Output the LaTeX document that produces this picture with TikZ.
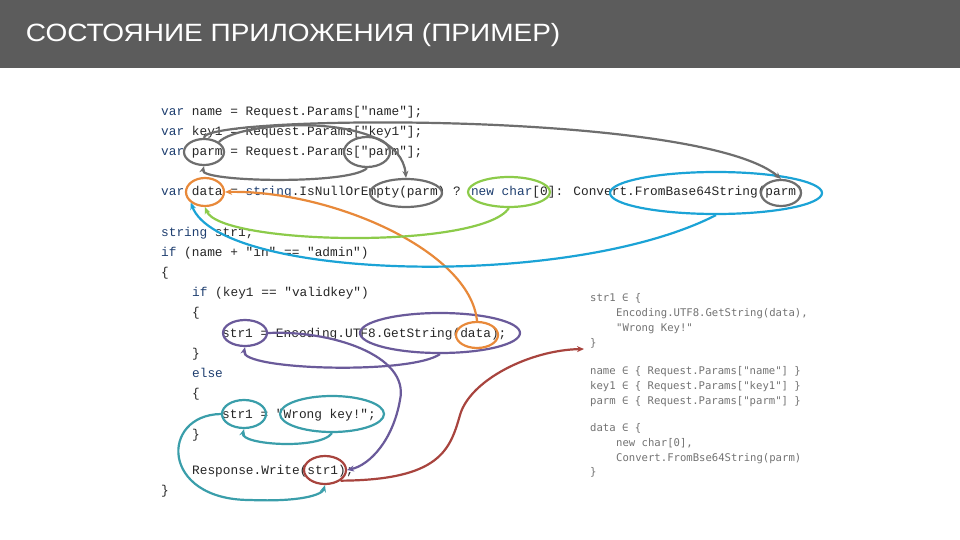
\documentclass[tikz,border=0pt]{standalone}
\usepackage{fontspec}
\setmainfont{Liberation Sans}
\newfontfamily\codefont{Liberation Mono}
\newfontfamily\panelfont{DejaVu Sans Mono}
\usetikzlibrary{shapes.geometric,arrows.meta}
\definecolor{kw}{HTML}{1F3F70}
\definecolor{cgray}{HTML}{6E6E6E}
\definecolor{corange}{HTML}{E8893A}
\definecolor{cgreen}{HTML}{8CCB4A}
\definecolor{cblue}{HTML}{1BA3D6}
\definecolor{cpurple}{HTML}{6A5A9A}
\definecolor{cteal}{HTML}{3A9EAA}
\definecolor{cred}{HTML}{A8443E}
\tikzset{
 code/.style={anchor=base west,inner sep=0pt,font=\codefont\fontsize{12.8}{14}\selectfont,text=black!85},
 panel/.style={anchor=base west,inner sep=0pt,font=\panelfont\fontsize{10.6}{12}\selectfont,text=black!55},
 ring/.style={draw=#1,line width=2.2pt,ellipse,inner sep=0pt,fill=none},
 link/.style={draw=#1,line width=2.2pt,-{Stealth[length=7pt,width=6pt]}},
 plain/.style={draw=#1,line width=2.2pt}
}
\newcommand{\kwd}[1]{\textcolor{kw}{#1}}
\begin{document}
\begin{tikzpicture}[x=1pt,y=-1pt]
\useasboundingbox (0,0) rectangle (960,540);
\fill[white] (0,0) rectangle (960,540);
\fill[black!64] (0,0) rectangle (960,68);
\node[anchor=west,text=white,font=\fontsize{25}{30}\selectfont,xscale=1.12] (title) at (22,35) {СОСТОЯНИЕ ПРИЛОЖЕНИЯ (ПРИМЕР)};
% code
\node[code] (l1) at (161,116) {\kwd{var} name = Request.Params["name"];};
\node[code] (l2) at (161,136) {\kwd{var} key1 = Request.Params["key1"];};
\node[code] (l3) at (161,156) {\kwd{var} parm = Request.Params["parm"];};
\node[code] (l4) at (161,196) {\kwd{var} data = \kwd{string}.IsNullOrEmpty(parm) ? \kwd{new char}[0]: Convert.FromBase64String(parm)};
\node[code] (l5) at (161,236) {\kwd{string} str1;};
\node[code] (l6) at (161,256) {\kwd{if} (name + "in" == "admin")};
\node[code] (l7) at (161,276) {\{};
\node[code] (l8) at (192,296) {\kwd{if} (key1 == "validkey")};
\node[code] (l9) at (192,316) {\{};
\node[code] (l10) at (222,337) {str1 = Encoding.UTF8.GetString(data);};
\node[code] (l11) at (192,357) {\}};
\node[code] (l12) at (192,377) {\kwd{else}};
\node[code] (l13) at (192,397) {\{};
\node[code] (l14) at (222,418) {str1 = "Wrong key!";};
\node[code] (l15) at (192,438) {\}};
\node[code] (l16) at (192,474) {Response.Write(str1);};
\node[code] (l17) at (161,494) {\}};
% panel
\node[panel] (p1) at (590,301) {str1 ∈ \{};
\node[panel] (p2) at (616,316) {Encoding.UTF8.GetString(data),};
\node[panel] (p3) at (616,331) {"Wrong Key!"};
\node[panel] (p4) at (590,346) {\}};
\node[panel] (p5) at (590,374) {name ∈ \{ Request.Params["name"] \}};
\node[panel] (p6) at (590,389) {key1 ∈ \{ Request.Params["key1"] \}};
\node[panel] (p7) at (590,404) {parm ∈ \{ Request.Params["parm"] \}};
\node[panel] (p8) at (590,431) {data ∈ \{};
\node[panel] (p9) at (616,446) {new char[0],};
\node[panel] (p10) at (616,461) {Convert.FromBse64String(parm)};
\node[panel] (p11) at (590,475) {\}};
% rings
\node[ring=cgray,minimum width=40,minimum height=26] (gp1) at (204,152) {};
\node[ring=cgray,minimum width=46,minimum height=30] (gp2) at (367,152) {};
\node[ring=cgray,minimum width=72,minimum height=28] (gp3) at (406,193) {};
\node[ring=cgray,minimum width=40,minimum height=26] (gp4) at (781,193) {};
\node[ring=corange,minimum width=38,minimum height=28] (od1) at (205,192) {};
\node[ring=cgreen,minimum width=82,minimum height=30] (gn) at (509,192) {};
\node[ring=cblue,minimum width=212,minimum height=42] (bc) at (716,193) {};
\node[ring=cpurple,minimum width=44,minimum height=26] (ps1) at (245,333) {};
\node[ring=cpurple,minimum width=160,minimum height=40] (pg) at (440,333) {};
\node[ring=corange,minimum width=42,minimum height=26] (od2) at (477,335) {};
\node[ring=cteal,minimum width=44,minimum height=28] (ts1) at (244,414) {};
\node[ring=cteal,minimum width=104,minimum height=36] (tw) at (332,414) {};
\node[ring=cred,minimum width=42,minimum height=28] (rs) at (325,470) {};
\coordinate (target) at (584,349);
% connectors
\draw[link=cgray] (gp1.north) .. controls (200,115) and (700,110) .. (gp4.north);
\draw[link=cgray] (gp1.north east) .. controls (240,120) and (400,110) .. (gp3.north);
\draw[link=cgray] (gp2.south) .. controls (350,185) and (200,182) .. (gp1.south);
\draw[link=corange] (od2.north) .. controls (470,250) and (330,190) .. (od1.east);
\draw[link=cgreen] (gn.south) .. controls (480,250) and (220,245) .. (od1.south);
\draw[link=cblue] (bc.south) .. controls (570,290) and (220,280) .. (od1.south west);
\draw[link=cpurple] (pg.south) .. controls (410,375) and (240,370) .. (ps1.south);
\draw[link=cpurple] (ps1.east) .. controls (330,330) and (410,355) .. (400,400) .. controls (393,440) and (370,465) .. (rs.east);
\draw[link=cteal] (tw.south) .. controls (320,450) and (240,445) .. (ts1.south);
\draw[link=cteal] (ts1.west) .. controls (160,415) and (160,500) .. (250,500) .. controls (300,502) and (322,495) .. (rs.south);
\draw[link=cred] (rs.south east) .. controls (440,480) and (450,450) .. (460,415) .. controls (470,380) and (530,350) .. (target);
\end{tikzpicture}
\end{document}
